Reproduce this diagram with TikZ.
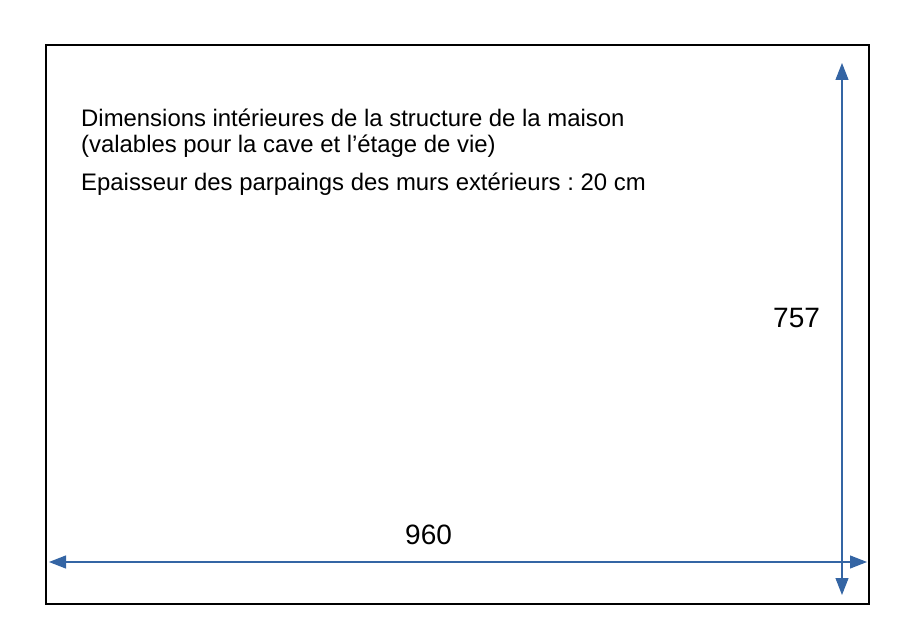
\documentclass[tikz,border=0pt]{standalone}
\usepackage{fontspec}
\setmainfont{Liberation Sans}
\usetikzlibrary{arrows.meta}
\definecolor{dimblue}{RGB}{52,101,164}
\frenchspacing
\tikzset{
  dimarrow/.style={draw=dimblue, line width=1.1pt, {Triangle[length=17pt,width=13pt]}-{Triangle[length=17pt,width=13pt]}, fill=dimblue},
  frame/.style={draw=black, line width=2pt},
  txt/.style={anchor=base west, inner sep=0pt, font=\fontsize{23.9}{28}\selectfont},
  dimlabel/.style={anchor=base west, inner sep=0pt, font=\fontsize{28}{32}\selectfont}
}
\begin{document}
\begin{tikzpicture}[x=1pt,y=-1pt]
\useasboundingbox (0,0) rectangle (903,636);
\node[frame, draw, minimum width=823pt, minimum height=559pt, anchor=north west, inner sep=0pt] (room) at (45,44) {};
\coordinate (vt) at (842,63);
\coordinate (vb) at (842,595);
\coordinate (hl) at (49,562);
\coordinate (hr) at (867,562);
\draw[dimarrow] (vt) -- (vb);
\draw[dimarrow] (hl) -- (hr);
\node[txt] (t1) at (81,127) {Dimensions intérieures de la structure de la maison};
\node[txt] (t2) at (81,153) {(valables pour la cave et l’étage de vie)};
\node[txt] (t3) at (81,191) {Epaisseur des parpaings des murs extérieurs : 20 cm};
\node[dimlabel] (h) at (773,328) {757};
\node[dimlabel] (w) at (405,544) {960};
\end{tikzpicture}
\end{document}
